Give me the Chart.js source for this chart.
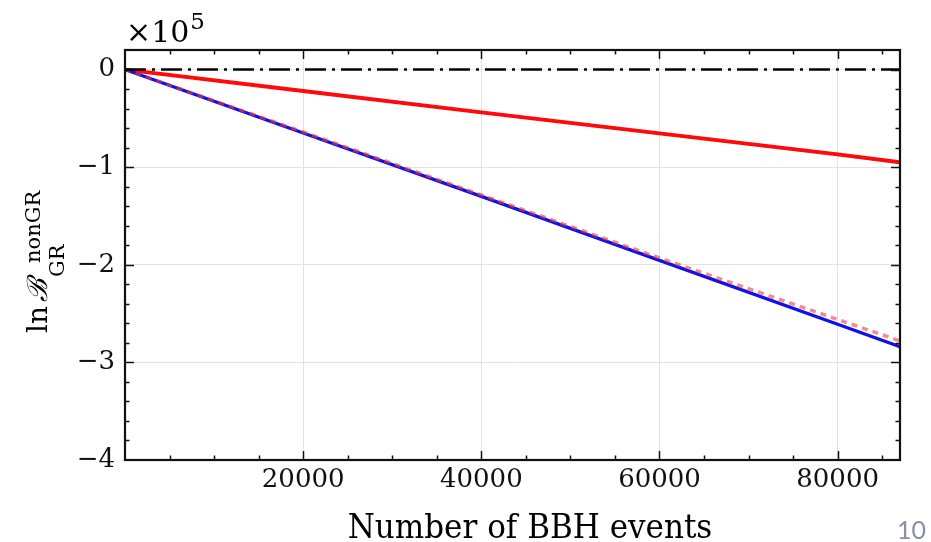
<!DOCTYPE html>
<html>
<head>
<meta charset="utf-8">
<script src="https://cdn.jsdelivr.net/npm/chart.js@4.4.1/dist/chart.umd.min.js"></script>
<style>
  html, body { margin: 0; padding: 0; background: #ffffff; }
  #wrap { width: 931px; height: 542px; }
</style>
</head>
<body>
<div id="wrap"><canvas id="c" width="931" height="542"></canvas></div>
<script>
// Number of BBH events sampled along each curve
const nEvents = [0, 20000, 40000, 60000, 80000, 87000];

// ln B (nonGR vs GR) for each model
const lnBRed      = [0, -22000, -44000, -65500, -87000, -95000];
const lnBRedHi    = [0, -20800, -42600, -63900, -85200, -93200];
const lnBRedLo    = [0, -23200, -45400, -67100, -88800, -96800];
const lnBBlue     = [0, -65000, -130000, -195500, -261000, -284000];
const lnBRedDash  = [0, -64000, -128500, -193000, -256000, -278000];
const lnBZero     = [0, 0, 0, 0, 0, 0];

// Axis ranges and tick values
const xRange = [0, 87000];
const yRange = [-400000, 20000];
const xTickValues = [20000, 40000, 60000, 80000];
const yTickValues = [0, -100000, -200000, -300000, -400000];
const xMinorStep = 5000;
const yMinorStep = 20000;
const yExponent = 5;

// Text
const xTitle = 'Number of BBH events';
const pageNumber = '10';

const pts = ys => nEvents.map((x, i) => ({ x: x, y: ys[i] }));
const SERIF = "'DejaVu Serif', serif";

function fmtY(v) {
  const n = Math.round(v / Math.pow(10, yExponent));
  return n < 0 ? '\u2212' + Math.abs(n) : String(n);
}

const framePlugin = {
  id: 'frame',
  afterDatasetsDraw(chart) {
    const ctx = chart.ctx;
    const a = chart.chartArea;
    const xs = chart.scales.x, ys = chart.scales.y;
    ctx.save();
    ctx.strokeStyle = '#111';

    // inward ticks on all four sides
    ctx.lineWidth = 1.5;
    ctx.beginPath();
    for (let v = xRange[0] + xMinorStep; v < xRange[1]; v += xMinorStep) {
      const px = Math.round(xs.getPixelForValue(v)) + 0.5;
      const len = xTickValues.includes(v) ? 9 : 4.5;
      ctx.moveTo(px, a.bottom); ctx.lineTo(px, a.bottom - len);
      ctx.moveTo(px, a.top); ctx.lineTo(px, a.top + len);
    }
    for (let v = yRange[0] + yMinorStep; v < yRange[1]; v += yMinorStep) {
      const py = Math.round(ys.getPixelForValue(v)) + 0.5;
      const len = yTickValues.includes(v) ? 9 : 4.5;
      ctx.moveTo(a.left, py); ctx.lineTo(a.left + len, py);
      ctx.moveTo(a.right, py); ctx.lineTo(a.right - len, py);
    }
    ctx.stroke();

    // frame
    ctx.lineWidth = 2.2;
    ctx.strokeRect(a.left, a.top, a.right - a.left, a.bottom - a.top);

    ctx.fillStyle = '#000';
    // exponent label above the axes
    ctx.textBaseline = 'alphabetic';
    ctx.textAlign = 'left';
    ctx.font = '30px ' + SERIF;
    ctx.fillText('\u00d710', a.left + 1, 42);
    const w10 = ctx.measureText('\u00d710').width;
    ctx.font = '23px ' + SERIF;
    ctx.fillText(String(yExponent), a.left + 2 + w10, 29);

    // x-axis title, slightly condensed
    ctx.save();
    ctx.translate(530, 538);
    ctx.scale(0.94, 1);
    ctx.font = '33px ' + SERIF;
    ctx.textAlign = 'center';
    ctx.fillText(xTitle, 0, 0);
    ctx.restore();

    // y-axis title: ln B_GR^nonGR, rotated
    ctx.save();
    ctx.translate(47, 333);
    ctx.rotate(-Math.PI / 2);
    ctx.textAlign = 'left';
    ctx.font = '28px ' + SERIF;
    ctx.fillText('ln', 0, 0);
    ctx.font = 'italic 28px ' + SERIF;
    ctx.fillText('\u212c', 31, 0);
    ctx.font = '21px ' + SERIF;
    ctx.fillText('GR', 56, 17);
    ctx.fillText('nonGR', 70, -7);
    ctx.restore();

    // page number
    ctx.font = "25px Lato, 'Open Sans', sans-serif";
    ctx.fillStyle = '#8790a5';
    ctx.textAlign = 'right';
    ctx.fillText(pageNumber, 926, 539);
    ctx.restore();
  }
};

new Chart(document.getElementById('c'), {
  type: 'line',
  data: {
    datasets: [
      { label: 'zero', data: pts(lnBZero), borderColor: '#000000', borderWidth: 2.6,
        borderDash: [21, 6, 3, 6], pointRadius: 0, fill: false },
      { label: 'red dashed', data: pts(lnBRedDash), borderColor: 'rgba(240,60,60,0.6)', borderWidth: 3.5,
        borderDash: [6, 5], pointRadius: 0, fill: false },
      { label: 'blue', data: pts(lnBBlue), borderColor: '#1010e8', borderWidth: 3.3,
        pointRadius: 0, fill: false },
      { label: 'red', data: pts(lnBRed), borderColor: '#ff0a0a', borderWidth: 3.8,
        pointRadius: 0, fill: false },
      { label: 'red band hi', data: pts(lnBRedHi), borderWidth: 0, borderColor: 'rgba(0,0,0,0)',
        backgroundColor: 'rgba(255,40,40,0.3)', pointRadius: 0, fill: '+1' },
      { label: 'red band lo', data: pts(lnBRedLo), borderWidth: 0, borderColor: 'rgba(0,0,0,0)',
        pointRadius: 0, fill: false }
    ]
  },
  options: {
    responsive: false,
    devicePixelRatio: 1,
    animation: false,
    events: [],
    layout: { padding: { left: 0, top: 50, right: 31, bottom: 0 } },
    plugins: { legend: { display: false }, tooltip: { enabled: false } },
    elements: { line: { tension: 0, borderCapStyle: 'butt' } },
    scales: {
      x: {
        type: 'linear',
        min: xRange[0], max: xRange[1],
        afterBuildTicks: s => { s.ticks = xTickValues.map(v => ({ value: v })); },
        afterFit: s => { s.height = 82; },
        border: { display: false },
        grid: { color: '#e2e2e2', lineWidth: 1, drawTicks: false },
        ticks: { color: '#111', padding: 5, maxRotation: 0,
                 font: { family: SERIF, size: 26 }, callback: v => String(v) }
      },
      y: {
        type: 'linear',
        min: yRange[0], max: yRange[1],
        afterBuildTicks: s => { s.ticks = yTickValues.map(v => ({ value: v })); },
        afterFit: s => { s.width = 125; },
        border: { display: false },
        grid: { color: '#e2e2e2', lineWidth: 1, drawTicks: false },
        ticks: { color: '#111', padding: 10,
                 font: { family: SERIF, size: 26 }, callback: v => fmtY(v) }
      }
    }
  },
  plugins: [framePlugin]
});
</script>
</body>
</html>
